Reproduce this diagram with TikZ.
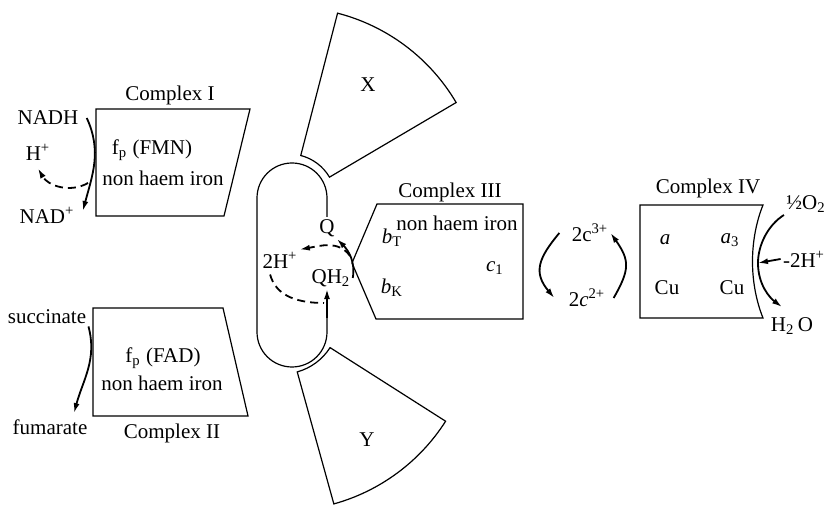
\documentclass[tikz,border=0pt]{standalone}
\usepackage{fontspec}
\setmainfont{Liberation Serif}
\usepackage{tikz}
\usetikzlibrary{arrows.meta}

\begin{document}
\begin{tikzpicture}[
  x=0.5pt, y=0.5pt,
  lbl/.style={inner sep=1pt, font=\fontsize{10.5}{12}\selectfont},
  cplx/.style={draw, line width=0.6pt},
  arr/.style={-{Latex[length=5pt,width=3pt]}, line width=0.9pt},
  darr/.style={arr, dash pattern=on 4pt off 2.5pt},
  dsh/.style={line width=0.9pt, dash pattern=on 4pt off 2.5pt}
]
\useasboundingbox (0,0) rectangle (827,-506);

\draw[cplx] (96,-109) -- (250,-109) -- (224,-216) -- (96,-216) -- cycle;
\node[lbl] (lab1) at (170,-95) {Complex I};
\node[lbl] (fmn) at (152,-150) {f\textsubscript{p} (FMN)};
\node[lbl] (iron1) at (163,-178) {non haem iron};
\node[lbl] (nadh) at (48,-118) {NADH};
\node[lbl] (hp) at (38,-152) {H\textsuperscript{+}};
\node[lbl] (nadp) at (47,-215) {NAD\textsuperscript{+}};
\draw[arr] ([xshift=3pt]nadh.east) to[out=-65,in=75] ([xshift=3pt,yshift=2pt]nadp.east);
\coordinate (nadmid) at (88,-183);
\draw[darr] (nadmid) to[out=-150,in=-60] ([yshift=-3pt]hp.south);

\draw[cplx] (93,-308) -- (223,-308) -- (248,-416) -- (93,-416) -- cycle;
\node[lbl] (lab2) at (172,-433) {Complex II};
\node[lbl] (fad) at (163,-358) {f\textsubscript{p} (FAD)};
\node[lbl] (iron2) at (162,-383) {non haem iron};
\node[lbl] (succ) at (47,-317) {succinate};
\node[lbl] (fum) at (50,-427) {fumarate};
\draw[arr] (succ.south east) to[out=-75,in=75] ([xshift=12pt,yshift=2pt]fum.north);

\node[lbl] (q) at (327,-228) {Q};
\node[lbl] (qh2) at (331,-278) {QH\textsubscript{2}};
\node[lbl] (hh) at (280,-260) {2H\textsuperscript{+}};
\draw[cplx] (q.north) -- (327,-198) arc[start angle=0,end angle=180,radius=35]
  -- (257,-332) arc[start angle=180,end angle=360,radius=35] -- (327,-318) coordinate (qbase);
\draw[arr] (qbase) -- (qbase |- qh2.south);
\draw[arr] (qh2.east) to[out=80,in=-45] (q.south east);
\coordinate (qarc) at (350,-256);
\draw[darr] (qarc) to[out=125,in=10] (hh.north east);
\coordinate (qmid) at (324,-303);
\draw[dsh] ([xshift=5pt,yshift=-2pt]hh.south west) to[out=-75,in=180] (qmid);

\draw[cplx, shift={(289,-201)}] (30.5:47) arc[start angle=30.5,end angle=75.5,radius=47]
  -- (75.5:194) arc[start angle=75.5,end angle=30.5,radius=194] -- cycle;
\node[lbl] (x) at (368,-85) {X};
\draw[cplx, shift={(282,-317)}] (-74.5:57) arc[start angle=-74.5,end angle=-32.5,radius=57]
  -- (-32.5:194) arc[start angle=-32.5,end angle=-74.5,radius=194] -- cycle;
\node[lbl] (y) at (367,-440) {Y};

\draw[cplx] (377,-204) -- (523,-204) -- (523,-319) -- (376,-319) -- (352,-263) -- cycle;
\node[lbl] (lab3) at (450,-192) {Complex III};
\node[lbl] (iron3) at (457,-223) {non haem iron};
\node[lbl] (bt) at (392,-238) {\textit{b}\textsubscript{T}};
\node[lbl] (bk) at (392,-288) {\textit{b}\textsubscript{K}};
\node[lbl] (cone) at (495,-268) {\textit{c}\textsubscript{1}};

\node[lbl] (c3) at (590,-233) {2c\textsuperscript{3+}};
\node[lbl] (c2) at (587,-298) {2\textit{c}\textsuperscript{2+}};
\draw[arr] ([xshift=-5pt]c3.west) to[out=-130,in=130,looseness=1.3] ([xshift=-6pt]c2.west);
\draw[arr] ([xshift=3pt]c2.east) to[out=60,in=-55,looseness=1.3] (c3.east);

\draw[cplx] (640,-205) -- (763,-205) .. controls (749,-240) and (749,-283) .. (763,-318) -- (640,-318) -- cycle;
\node[lbl] (lab4) at (708,-188) {Complex IV};
\node[lbl] (a) at (665,-240) {\textit{a}};
\node[lbl] (a3) at (730,-240) {\textit{a}\textsubscript{3}};
\node[lbl] (cua) at (667,-288) {Cu};
\node[lbl] (cub) at (732,-288) {Cu};
\node[lbl] (o2) at (806,-204) {½O\textsubscript{2}};
\node[lbl] (h2o) at (792,-326) {H\textsubscript{2}\,O};
\node[lbl] (hin) at (804,-259) {-2H\textsuperscript{+}};
\coordinate (ivc) at (758,-263);
\draw[arr] (o2.south west) .. controls (768,-225) and (758,-245) .. (ivc)
  .. controls (758,-285) and (770,-298) .. ([xshift=-5pt,yshift=4pt]h2o.north);
\draw[arr] (hin.west) -- (ivc);
\end{tikzpicture}
\end{document}
